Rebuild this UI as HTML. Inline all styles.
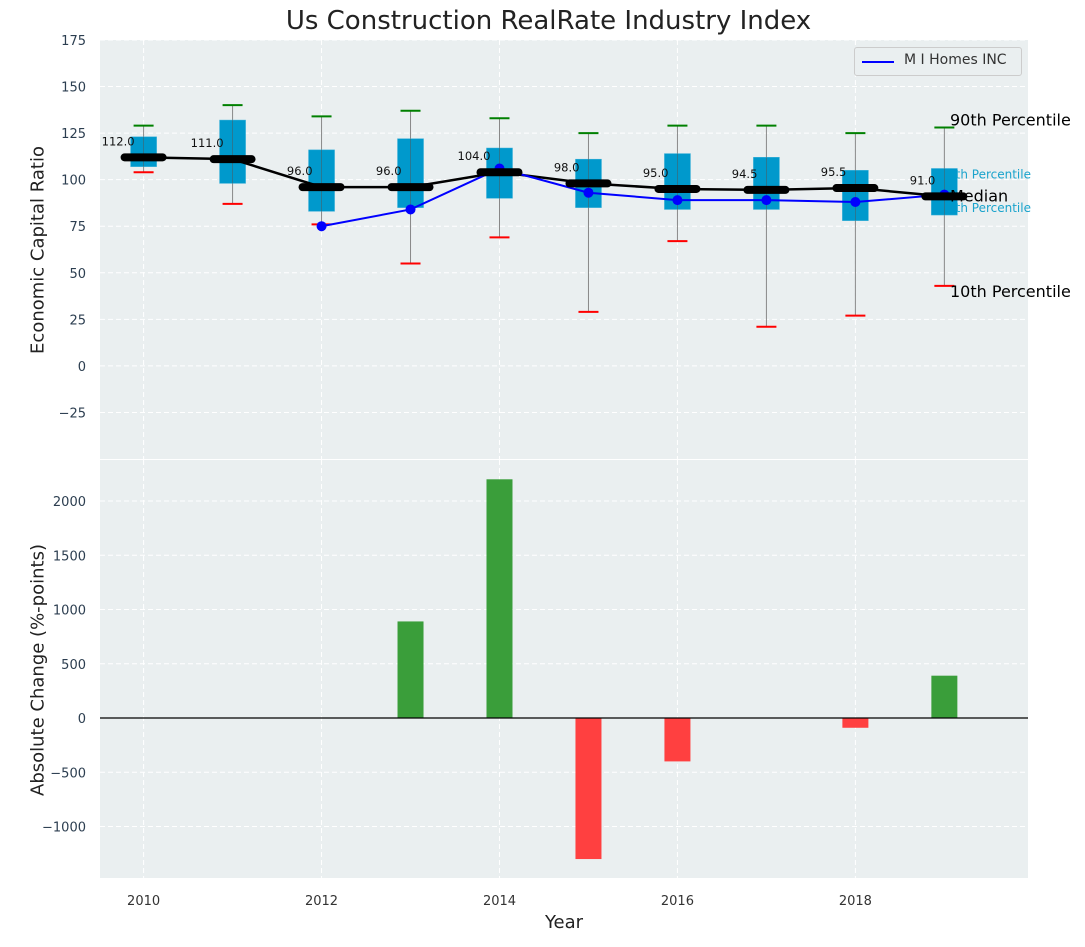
<!DOCTYPE html>
<html><head><meta charset="utf-8">
<style>
body{margin:0;background:#fff;font-family:"Liberation Sans","DejaVu Sans",sans-serif;}
svg text{font-family:"DejaVu Sans","Liberation Sans",sans-serif;}
</style></head>
<body>
<svg id="chart" width="1085" height="942" xmlns="http://www.w3.org/2000/svg"></svg>
<script>
const years=[2010,2011,2012,2013,2014,2015,2016,2017,2018,2019];
const medians=[112,111,96,96,104,98,95,94.5,95.5,91];
const q1s=[107,98,83,85,90,85,84,84,78,81];
const q3s=[123,132,116,122,117,111,114,112,105,106];
const p10s=[104,87,76,55,69,29,67,21,27,43];
const p90s=[129,140,134,137,133,125,129,129,125,128];
const companyYears=[2012,2013,2014,2015,2016,2017,2018,2019];
const companyVals=[75,84,106,93,89,89,88,92];
const changeYears=[2013,2014,2015,2016,2018,2019];
const changeVals=[890,2200,-1300,-400,-90,390];
const topTicks=[-25,0,25,50,75,100,125,150,175];
const botTicks=[-1000,-500,0,500,1000,1500,2000];
const xTicks=[2010,2012,2014,2016,2018];

const NS="http://www.w3.org/2000/svg";
const svg=document.getElementById('chart');
function el(tag,attrs,parent){const e=document.createElementNS(NS,tag);for(const k in attrs)e.setAttribute(k,attrs[k]);(parent||svg).appendChild(e);return e;}
const L=100,R=1028,T1=40,B1=459,T2=460,B2=878;
const x=v=>L+(v-2009.51)*(R-L)/(2019.94-2009.51);
const y1=v=>T1+(175-v)*(B1-T1)/225;
const y2=v=>718-v*0.1085;

let p=el('rect',{x:L,y:T1,width:R-L,height:B1-T1,fill:'#eaeff0'});


p=el('rect',{x:L,y:T2,width:R-L,height:B2-T2,fill:'#eaeff0'});



xTicks.forEach(t=>{
  [[T1,B1],[T2,B2]].forEach(r=>el('line',{x1:x(t),x2:x(t),y1:r[0],y2:r[1],stroke:'#fff','stroke-dasharray':'5,3','stroke-width':1}));
  const tx=el('text',{x:x(t),y:905,'text-anchor':'middle','font-size':13,fill:'#333'});tx.textContent=t;
  
  
});
topTicks.forEach(t=>{
  el('line',{x1:L,x2:R,y1:y1(t),y2:y1(t),stroke:'#fff','stroke-dasharray':'5,3'});
  const tx=el('text',{x:86,y:y1(t)+5,'text-anchor':'end','font-size':13,fill:'#2c3e50'});tx.textContent=t<0?'\u2212'+(-t):t;
  
  
});
botTicks.forEach(t=>{
  el('line',{x1:L,x2:R,y1:y2(t),y2:y2(t),stroke:'#fff','stroke-dasharray':'5,3'});
  const tx=el('text',{x:86,y:y2(t)+5,'text-anchor':'end','font-size':13,fill:'#2c3e50'});tx.textContent=t<0?'\u2212'+(-t):t;
  
  
});

const last=years.length-1;
[[q3s[last],'75th Percentile',10],[q1s[last],'25th Percentile',-3]].forEach(a=>{
  const t=el('text',{x:x(years[last])-4,y:y1(a[0])+a[2],'font-size':12,fill:'#1aa3cc'});t.textContent=a[1];
  
  
});

const hw=13;
years.forEach((yr,i)=>{
  const cx=x(yr);
  const w=el('line',{x1:cx,x2:cx,y1:y1(p10s[i]),y2:y1(p90s[i]),stroke:'#888','stroke-width':1});
  
  
  const b=el('rect',{x:cx-hw,y:y1(q3s[i]),width:2*hw,height:y1(q1s[i])-y1(q3s[i]),fill:'#0099cc',stroke:'#3ab0d8','stroke-width':0.5});
  
  
  el('line',{x1:cx,x2:cx,y1:y1(q3s[i]),y2:y1(q1s[i]),stroke:'#555','stroke-width':0.8,opacity:0.6});
  const c1=el('line',{x1:cx-10,x2:cx+10,y1:y1(p90s[i]),y2:y1(p90s[i]),stroke:'green','stroke-width':2});
  
  
  const c2=el('line',{x1:cx-10,x2:cx+10,y1:y1(p10s[i]),y2:y1(p10s[i]),stroke:'red','stroke-width':2});
  
  
});
let mp=el('polyline',{points:years.map((yr,i)=>x(yr)+','+y1(medians[i])).join(' '),fill:'none',stroke:'#000','stroke-width':2.5});


let cl=el('polyline',{points:companyYears.map((yr,i)=>x(yr)+','+y1(companyVals[i])).join(' '),fill:'none',stroke:'blue','stroke-width':2});


companyYears.forEach((yr,i)=>{
  const c=el('circle',{cx:x(yr),cy:y1(companyVals[i]),r:5,fill:'blue'});
  
  
});
years.forEach((yr,i)=>{
  const m=el('line',{x1:x(yr)-19,x2:x(yr)+19,y1:y1(medians[i]),y2:y1(medians[i]),stroke:'#000','stroke-width':8,'stroke-linecap':'round'});
  
  
  const t=el('text',{x:x(yr)-9,y:y1(medians[i])-12,'text-anchor':'end','font-size':11.5,fill:'#111'});t.textContent=medians[i].toFixed(1);
  
  
});
[[p90s[last],'90th Percentile',-2],[medians[last],'Median',5],[p10s[last],'10th Percentile',11]].forEach(a=>{
  const t=el('text',{x:950,y:y1(a[0])+a[2],'font-size':16,fill:'#000'});t.textContent=a[1];
  
  
});

changeYears.forEach((yr,i)=>{
  const v=changeVals[i];
  const r=el('rect',{x:x(yr)-13,y:Math.min(y2(v),y2(0)),width:26,height:Math.abs(y2(v)-y2(0)),fill:v>=0?'#3a9e3a':'#ff4040'});
  
  
});
let z=el('line',{x1:L,x2:R,y1:y2(0),y2:y2(0),stroke:'#000','stroke-width':1.3});


</script>
<div style="position:absolute;left:854px;top:47px;width:166px;height:27px;border:1px solid #ccc;border-radius:3px;background:#eaeff0;font:14px 'DejaVu Sans','Liberation Sans',sans-serif;color:#333;">
 <span style="position:absolute;left:7px;top:13px;width:32px;height:2px;background:blue"></span>
 <span style="position:absolute;left:49px;top:4px">M I Homes INC</span>
</div>
<div style="position:absolute;left:0;width:1097px;top:6px;text-align:center;font:26px 'DejaVu Sans','Liberation Sans',sans-serif;color:#222">Us Construction RealRate Industry Index</div>
<div style="position:absolute;left:0;width:1128px;top:912px;text-align:center;font:18px 'DejaVu Sans','Liberation Sans',sans-serif;color:#222">Year</div>
<div style="position:absolute;left:38px;top:250px;transform:translate(-50%,-50%) rotate(-90deg);white-space:nowrap;font:18px 'DejaVu Sans','Liberation Sans',sans-serif;color:#222">Economic Capital Ratio</div>
<div style="position:absolute;left:38px;top:670px;transform:translate(-50%,-50%) rotate(-90deg);white-space:nowrap;font:18px 'DejaVu Sans','Liberation Sans',sans-serif;color:#222">Absolute Change (%-points)</div>
</body></html>
